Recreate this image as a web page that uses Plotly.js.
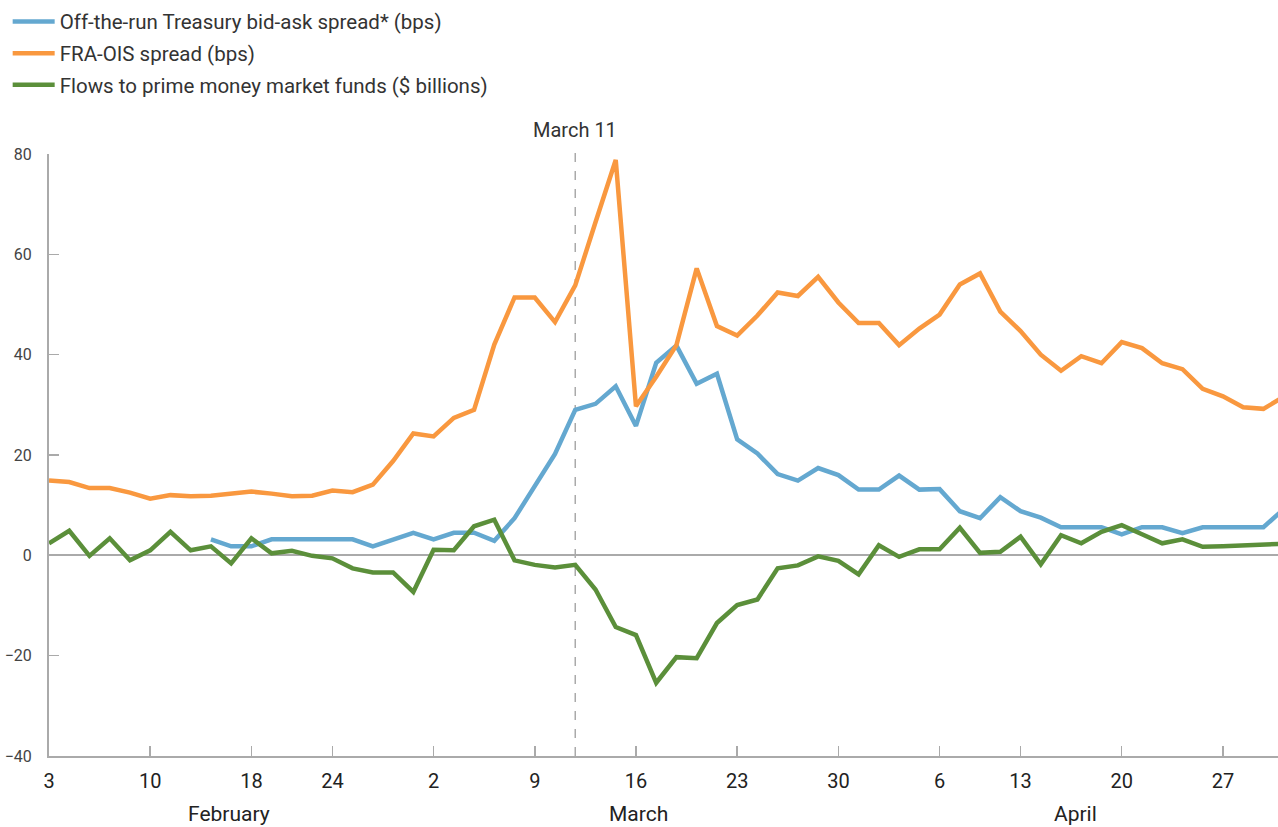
<!DOCTYPE html>
<html>
<head>
<meta charset="utf-8">
<script src="https://cdn.plot.ly/plotly-3.0.1.min.js"></script>
<style>html,body{margin:0;padding:0;background:#fff;}#chart{width:1278px;height:827px;}</style>
</head>
<body>
<div id="chart"></div>
<script>
// Business days, Feb 3 - Apr 30, 2020
const dates = [
  "2020-02-03","2020-02-04","2020-02-05","2020-02-06","2020-02-07","2020-02-10","2020-02-11","2020-02-12","2020-02-13","2020-02-14",
  "2020-02-18","2020-02-19","2020-02-20","2020-02-21","2020-02-24","2020-02-25","2020-02-26","2020-02-27","2020-02-28",
  "2020-03-02","2020-03-03","2020-03-04","2020-03-05","2020-03-06","2020-03-09","2020-03-10","2020-03-11","2020-03-12","2020-03-13",
  "2020-03-16","2020-03-17","2020-03-18","2020-03-19","2020-03-20","2020-03-23","2020-03-24","2020-03-25","2020-03-26","2020-03-27",
  "2020-03-30","2020-03-31",
  "2020-04-01","2020-04-02","2020-04-03","2020-04-06","2020-04-07","2020-04-08","2020-04-09","2020-04-13","2020-04-14","2020-04-15",
  "2020-04-16","2020-04-17","2020-04-20","2020-04-21","2020-04-22","2020-04-23","2020-04-24","2020-04-27","2020-04-28","2020-04-29","2020-04-30"
];

const treasuryBidAsk = [
  null,null,null,null,null,null,null,null,3.2,1.8,
  1.8,3.2,3.2,3.2,3.2,3.2,1.8,3.2,4.5,3.2,
  4.5,4.5,2.9,7.4,14.0,20.2,29.0,30.2,33.7,25.8,
  38.4,41.8,34.2,36.2,23.1,20.3,16.2,14.9,17.4,16.0,
  13.1,13.1,15.9,13.1,13.2,8.8,7.4,11.6,8.8,7.5,
  5.6,5.6,5.6,4.2,5.6,5.6,4.4,5.6,5.6,5.6,
  5.6,9.2
];

const fraOis = [
  14.9,14.6,13.4,13.4,12.5,11.3,12.0,11.8,11.9,12.3,
  12.7,12.3,11.8,11.9,12.9,12.6,14.1,18.8,24.3,23.7,
  27.4,29.0,42.0,51.4,51.4,46.5,53.8,66.4,78.8,29.7,
  35.6,41.9,57.2,45.7,43.8,47.8,52.4,51.7,55.5,50.4,
  46.3,46.3,41.9,45.2,48.0,54.0,56.2,48.6,44.7,40.0,
  36.8,39.7,38.3,42.5,41.3,38.3,37.1,33.2,31.7,29.5,
  29.2,31.6
];

const primeFlows = [
  2.4,4.9,-0.1,3.4,-1.0,1.0,4.7,1.0,1.8,-1.6,
  3.4,0.4,0.9,-0.1,-0.6,-2.6,-3.4,-3.4,-7.3,1.1,
  1.0,5.8,7.1,-1.0,-1.9,-2.4,-1.9,-6.8,-14.3,-15.9,
  -25.4,-20.3,-20.5,-13.5,-9.9,-8.8,-2.6,-2.0,-0.2,-1.1,
  -3.8,2.0,-0.3,1.2,1.2,5.5,0.5,0.7,3.7,-1.8,
  4.0,2.4,4.7,6.0,4.2,2.4,3.2,1.7,1.8,1.9,
  2.2,2.3
];

const seriesNames = [
  "Off-the-run Treasury bid-ask spread* (bps)",
  "FRA-OIS spread (bps)",
  "Flows to prime money market funds ($ billions)"
];

const tickDates = ["2020-02-03","2020-02-10","2020-02-18","2020-02-24","2020-03-02","2020-03-09","2020-03-16","2020-03-23","2020-03-30","2020-04-06","2020-04-13","2020-04-20","2020-04-27"];
const tickLabels = ["3","10","18","24","2","9","16","23","30","6","13","20","27"];
const yTicks = [-40,-20,0,20,40,60,80];

const months = ["February","March","April"];
const monthCenters = [8.9, 29.1, 50.7];
const eventDate = "2020-03-11";
const eventLabel = "March 11";

const FONT = "Roboto, 'Open Sans', sans-serif";
const colors = ["#64A8D0","#F9983F","#5B8F3A"];
const seriesData = [treasuryBidAsk, fraOis, primeFlows];

const traces = seriesData.map((vals, k) => ({
  type: "scatter",
  mode: "lines",
  x: dates,
  y: vals,
  name: seriesNames[k],
  legendgroup: "g" + k,
  line: {color: colors[k], width: 4.5},
  connectgaps: false,
  hoverinfo: "x+y"
}));

const eventIdx = dates.indexOf(eventDate);

const layout = {
  width: 1278,
  height: 827,
  margin: {l: 49, r: 0, t: 154, b: 71, autoexpand: false},
  paper_bgcolor: "#ffffff",
  plot_bgcolor: "#ffffff",
  font: {family: FONT, color: "#333333"},
  showlegend: true,
  legend: {
    xref: "container", yref: "container",
    x: 0.006, y: 0.998, xanchor: "left", yanchor: "top",
    orientation: "v",
    traceorder: "grouped",
    tracegroupgap: 2,
    font: {family: FONT, size: 20.5, color: "#333333"},
    bgcolor: "rgba(0,0,0,0)",
    itemwidth: 42
  },
  xaxis: {
    type: "category",
    range: [0, 60.72],
    tickmode: "array",
    tickvals: tickDates,
    ticktext: tickLabels,
    ticks: "inside",
    ticklen: 10,
    tickwidth: 1.5,
    tickcolor: "#aaaaaa",
    showline: true,
    linecolor: "#aaaaaa",
    linewidth: 2,
    showgrid: false,
    zeroline: false,
    tickfont: {family: FONT, size: 20, color: "#222222"},
    ticklabelstandoff: 6,
    fixedrange: true
  },
  yaxis: {
    range: [-40, 80],
    tickmode: "array",
    tickvals: yTicks,
    ticks: "inside",
    ticklen: 10,
    tickwidth: 1.5,
    tickcolor: "#aaaaaa",
    showline: true,
    linecolor: "#aaaaaa",
    linewidth: 2,
    showgrid: false,
    zeroline: true,
    zerolinecolor: "#aaaaaa",
    zerolinewidth: 2,
    tickfont: {family: FONT, size: 16, color: "#444444"},
    ticklabelstandoff: 12,
    fixedrange: true
  },
  shapes: [{
    type: "line",
    xref: "x", yref: "paper",
    x0: eventIdx, x1: eventIdx, y0: 0, y1: 1.005,
    line: {color: "#aaaaaa", width: 1.5, dash: "dash"},
    layer: "below"
  }],
  annotations: [
    {
      xref: "x", yref: "paper", x: eventIdx, y: 1, yanchor: "bottom", xanchor: "center",
      yshift: 10, text: eventLabel, showarrow: false,
      font: {family: FONT, size: 20, color: "#333333"}
    }
  ].concat(months.map((m, k) => ({
    xref: "x", yref: "paper", x: monthCenters[k], y: 0, yanchor: "top", xanchor: "center",
    yshift: -44, text: m, showarrow: false,
    font: {family: FONT, size: 21, color: "#222222"}
  })))
};

Plotly.newPlot("chart", traces, layout, {displayModeBar: false, staticPlot: true});
</script>
</body>
</html>
